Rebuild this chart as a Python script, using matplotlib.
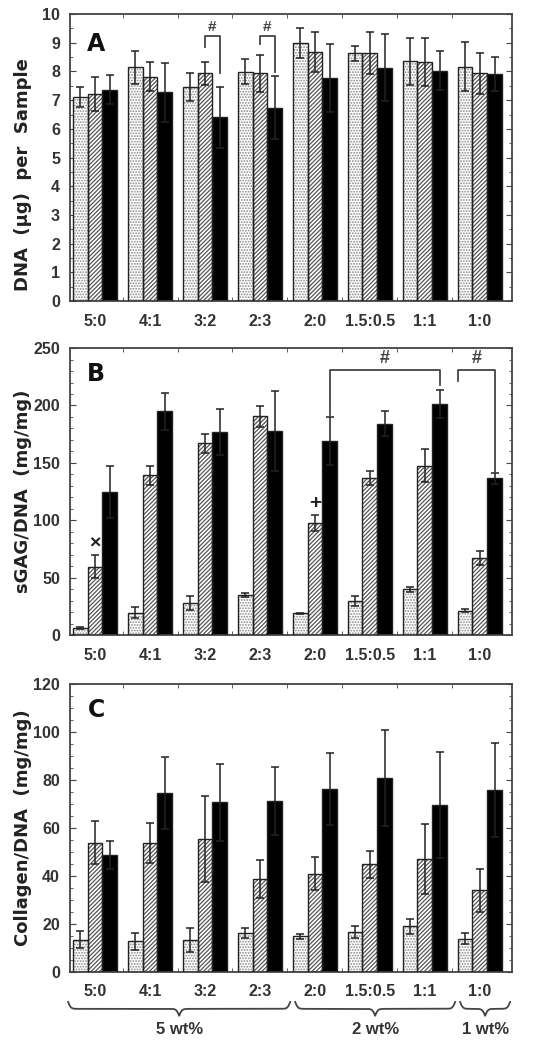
import numpy as np
import matplotlib.pyplot as plt
from matplotlib.ticker import MultipleLocator, FixedLocator
import matplotlib.transforms as mtransforms

plt.rcParams["font.family"] = ["Liberation Sans", "DejaVu Sans"]
plt.rcParams["font.weight"] = "bold"
plt.rcParams["hatch.linewidth"] = 0.9

# ------------------------------------------------------------------
# data
# ------------------------------------------------------------------
ratios = ["5:0", "4:1", "3:2", "2:3", "2:0", "1.5:0.5", "1:1", "1:0"]
groups = ["5 wt%", "2 wt%", "1 wt%"]

# panel A - DNA per sample (ug)
dna_dot = [7.10, 8.14, 7.47, 7.99, 8.98, 8.63, 8.36, 8.16]
dna_dot_err = [0.35, 0.58, 0.49, 0.44, 0.52, 0.27, 0.82, 0.85]
dna_hat = [7.21, 7.82, 7.93, 7.93, 8.69, 8.63, 8.34, 7.93]
dna_hat_err = [0.60, 0.50, 0.39, 0.66, 0.70, 0.73, 0.84, 0.73]
dna_blk = [7.37, 7.27, 6.40, 6.74, 7.76, 8.13, 8.03, 7.91]
dna_blk_err = [0.50, 1.03, 1.05, 1.10, 1.18, 1.16, 0.68, 0.60]

# panel B - sGAG/DNA (mg/mg)
gag_dot = [5.8, 19.5, 28.2, 34.9, 18.9, 29.7, 39.8, 21.2]
gag_dot_err = [0.8, 5.0, 6.0, 1.5, 0.3, 4.0, 2.0, 1.5]
gag_hat = [59.6, 139.0, 167.0, 190.4, 98.0, 137.0, 147.7, 67.4]
gag_hat_err = [10.0, 8.0, 8.0, 9.0, 7.0, 6.0, 14.0, 6.0]
gag_blk = [125.0, 195.0, 176.5, 178.0, 169.0, 184.0, 201.5, 136.6]
gag_blk_err = [22.7, 16.0, 20.0, 35.0, 21.0, 11.0, 12.0, 5.0]

# panel C - Collagen/DNA (mg/mg)
col_dot = [13.5, 12.8, 13.5, 16.3, 14.9, 16.7, 19.0, 13.9]
col_dot_err = [3.5, 3.5, 5.0, 2.0, 1.0, 2.4, 3.0, 2.4]
col_hat = [53.8, 53.8, 55.4, 38.7, 41.0, 44.8, 47.0, 34.0]
col_hat_err = [9.0, 8.3, 18.0, 8.0, 7.0, 5.7, 14.5, 8.8]
col_blk = [48.7, 74.4, 70.7, 71.2, 76.2, 81.0, 69.5, 75.8]
col_blk_err = [6.0, 15.0, 16.0, 14.0, 15.0, 20.0, 22.0, 19.5]

# significance brackets: (group, left bar, right bar, top, left foot, right foot)
brackets_a = [(2, 1, 2, 9.23, 8.85, 7.94), (3, 1, 2, 9.23, 8.95, 7.98)]
# cross-group brackets in B: (left group, right group, top, left foot, right foot)
brackets_b = [(4, 6, 231, 192, 218), (6.33, 7, 231, 221, 142)]

# ------------------------------------------------------------------
fig = plt.figure(figsize=(5.45, 10.5), dpi=100)
ax_a = fig.add_axes([0.128, 0.7133, 0.811, 0.2733])
ax_b = fig.add_axes([0.128, 0.3952, 0.811, 0.2733])
ax_c = fig.add_axes([0.128, 0.0743, 0.811, 0.2743])

x = np.arange(len(ratios))
w = 0.27
offsets = [-w, 0.0, w]
tick_col = "#333333"


def draw_panel(ax, series, ylim, major, minor, ylabel, letter, letter_y):
    styles = [("white", "#8a8a8a", "......"), ("white", "#555555", "////////"),
              ("black", "black", None)]
    for (vals, errs), off, (fc, hc, hatch) in zip(series, offsets, styles):
        xs = x + off
        if hatch:
            ax.bar(xs, vals, w, color=fc, edgecolor=hc, hatch=hatch,
                   linewidth=0, zorder=2)
        else:
            ax.bar(xs, vals, w, color=fc, linewidth=0, zorder=2)
        ax.bar(xs, vals, w, fill=False, edgecolor="#222222",
               linewidth=1.0, zorder=3)
        ax.errorbar(xs, vals, yerr=errs, fmt="none", ecolor="#222222",
                    elinewidth=1.1, capsize=3, capthick=1.1, zorder=4)

    ax.set_xlim(-0.46, 7.58)
    ax.set_ylim(*ylim)
    ax.yaxis.set_major_locator(MultipleLocator(major))
    ax.yaxis.set_minor_locator(MultipleLocator(minor))
    ax.set_xticks(x)
    ax.set_xticklabels(ratios)
    ax.xaxis.set_minor_locator(FixedLocator(x[:-1] + 0.5))
    ax.tick_params(axis="x", which="major", length=0, pad=9,
                   labelsize=11.5, labelcolor=tick_col)
    ax.tick_params(axis="x", which="minor", direction="in", length=3,
                   top=True, bottom=True, color="#444444")
    ax.tick_params(axis="y", which="major", direction="in", length=4,
                   left=True, right=True, pad=7, labelsize=11.5,
                   labelcolor=tick_col, color="#444444")
    ax.tick_params(axis="y", which="minor", direction="in", length=2,
                   left=True, right=True, color="#444444")
    for sp in ax.spines.values():
        sp.set_linewidth(1.3)
        sp.set_color("#444444")

    ax.set_ylabel(ylabel, family="DejaVu Sans", fontsize=13,
                  fontweight="bold", color="#222222")
    ax.text(0.06, letter_y, letter, transform=ax.transAxes, ha="center",
            va="center", fontsize=17, fontweight="bold", color="#111111",
            family="DejaVu Sans")


draw_panel(ax_a, [(dna_dot, dna_dot_err), (dna_hat, dna_hat_err),
                  (dna_blk, dna_blk_err)],
           (0, 10), 1, 0.5, "DNA  (μg)  per  Sample", "A", 0.895)
draw_panel(ax_b, [(gag_dot, gag_dot_err), (gag_hat, gag_hat_err),
                  (gag_blk, gag_blk_err)],
           (0, 250), 50, 10, "sGAG/DNA  (mg/mg)", "B", 0.91)
draw_panel(ax_c, [(col_dot, col_dot_err), (col_hat, col_hat_err),
                  (col_blk, col_blk_err)],
           (0, 120), 20, 5, "Collagen/DNA  (mg/mg)", "C", 0.91)

ax_a.yaxis.set_label_coords(-0.085, 0.44)
ax_b.yaxis.set_label_coords(-0.085, 0.5)
ax_c.yaxis.set_label_coords(-0.085, 0.5)

# brackets in A
lc = "#444444"
for g, bl, br, top, fl, fr in brackets_a:
    xl, xr = g + offsets[bl], g + offsets[br]
    ax_a.plot([xl, xl, xr, xr], [fl, top, top, fr], color=lc, lw=1.3,
              zorder=5)
    ax_a.text((xl + xr) / 2, top + 0.32, "#", ha="center", va="center",
              fontsize=11, color=lc)

# brackets in B
for gl, gr, top, fl, fr in brackets_b:
    xl, xr = gl + offsets[2], gr + offsets[2]
    ax_b.plot([xl, xl, xr, xr], [fl, top, top, fr], color=lc, lw=1.3,
              zorder=5)
    ax_b.text((xl + xr) / 2, top + 10, "#", ha="center", va="center",
              fontsize=13, color=lc)

ax_b.text(0 + offsets[1], 79, "×", ha="center", va="center", fontsize=14,
          color="#222222")
ax_b.text(4 + offsets[1], 115, "+", ha="center", va="center", fontsize=15,
          color="#222222")

# curly braces below panel C
trans = mtransforms.blended_transform_factory(ax_c.transData, ax_c.transAxes)


def brace(ax, x0, x1, ytop, depth, beta=40.0):
    n = 401
    xs = np.linspace(x0, x1, n)
    half = xs[: n // 2 + 1]
    yh = (1 / (1 + np.exp(-beta * (half - half[0])))
          + 1 / (1 + np.exp(-beta * (half - half[-1]))))
    yy = np.concatenate((yh, yh[-2::-1]))
    ys = ytop - depth * (yy - 0.5)
    ax.plot(xs, ys, color="#444444", lw=1.3, transform=trans, clip_on=False)


edges = [(-0.49, 3.55), (3.64, 6.55), (6.64, 7.55)]
for (x0, x1), lab in zip(edges, groups):
    brace(ax_c, x0, x1, -0.104, 0.048)
    ax_c.text((x0 + x1) / 2, -0.20, lab, transform=trans, ha="center",
              va="center", fontsize=12, color=tick_col)

fig.savefig("out.png", dpi=100)
